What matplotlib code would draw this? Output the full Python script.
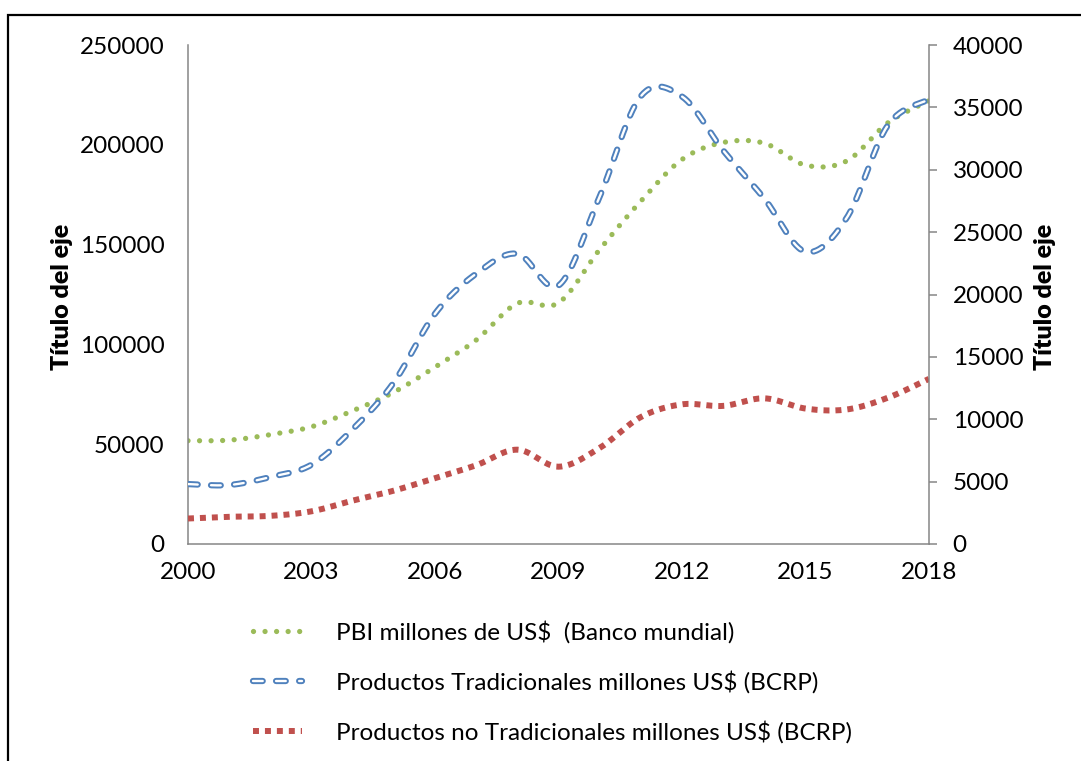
import numpy as np
import matplotlib
matplotlib.use('Agg')
import matplotlib.pyplot as plt
from matplotlib.lines import Line2D
from matplotlib.legend_handler import HandlerTuple
from matplotlib.patches import Rectangle

plt.rcParams['font.family'] = ['Lato', 'DejaVu Sans']
plt.rcParams['lines.scale_dashes'] = False

# datos (millones de US$)
years = np.arange(2000, 2019)
pbi = [51745, 52030, 54778, 58731, 66768, 76060, 88643, 102171, 120551, 120823,
       147529, 171762, 192649, 201175, 200790, 189803, 191898, 211007, 222045]
tradicionales = [4804, 4730, 5369, 6356, 9199, 12950, 18461, 21666, 23266, 20720,
                 27850, 35896, 35869, 31553, 27686, 23432, 26137, 33566, 35638]
no_tradicionales = [2044, 2183, 2256, 2620, 3479, 4277, 5279, 6313, 7562, 6196,
                    7699, 10176, 11197, 11069, 11677, 10857, 10782, 11724, 13240]

labels = ['PBI millones de US$  (Banco mundial)',
          'Productos Tradicionales millones US$ (BCRP)',
          'Productos no Tradicionales millones US$ (BCRP)']
xticks = [2000, 2003, 2006, 2009, 2012, 2015, 2018]


def suavizar(x, y, n=30):
    # curva suavizada tipo Excel (bezier cardinal)
    x = np.asarray(x, float)
    y = np.asarray(y, float)
    px = np.concatenate([[x[0]], x, [x[-1]]])
    py = np.concatenate([[y[0]], y, [y[-1]]])
    xs, ys = [], []
    t = np.linspace(0, 1, n, endpoint=False)
    for i in range(1, len(px) - 2):
        p0 = np.array([px[i], py[i]])
        p3 = np.array([px[i + 1], py[i + 1]])
        c1 = p0 + (p3 - np.array([px[i - 1], py[i - 1]])) / 6
        c2 = p3 - (np.array([px[i + 2], py[i + 2]]) - p0) / 6
        b = ((1 - t) ** 3)[:, None] * p0 + (3 * (1 - t) ** 2 * t)[:, None] * c1 \
            + (3 * (1 - t) * t ** 2)[:, None] * c2 + (t ** 3)[:, None] * p3
        xs.extend(b[:, 0])
        ys.extend(b[:, 1])
    xs.append(x[-1])
    ys.append(y[-1])
    return np.array(xs), np.array(ys)


W, H = 1081, 761
fig = plt.figure(figsize=(W / 100, H / 100), dpi=100)
fig.patches.append(Rectangle((8 / W, -0.05), 1.2, 1 - 15 / H + 0.05, transform=fig.transFigure,
                             fill=False, edgecolor='black', linewidth=1.6, zorder=0))

ax = fig.add_axes([188 / W, (H - 544) / H, (929 - 188) / W, (544 - 45) / H])
ax2 = ax.twinx()

verde = '#9BBB59'
azul = '#4F81BD'
rojo = '#C0504D'
gris = '#868686'
fs = 17.5

estilo_azul = (0, (7.0, 9.6))

gx, gy = suavizar(years, pbi)
ax.plot(gx, gy, color=verde, lw=3.8, linestyle=(0, (0.01, 8.3)),
        dash_capstyle='round', solid_capstyle='round')

bx, by = suavizar(years, tradicionales)
ax2.plot(bx, by, color=azul, lw=4.5, linestyle=estilo_azul, dash_capstyle='round')
ax2.plot(bx, by, color='white', lw=1.7, linestyle=estilo_azul, dash_capstyle='round')

rx, ry = suavizar(years, no_tradicionales)
ax2.plot(rx, ry, color=rojo, lw=4.3, linestyle=(0, (4.3, 4.3)), dash_capstyle='butt')

ax.set_xlim(2000, 2018)
ax.set_ylim(0, 250000)
ax2.set_ylim(0, 40000)
ax.set_xticks(xticks)
ax.set_yticks(np.arange(0, 250001, 50000))
ax2.set_yticks(np.arange(0, 40001, 5000))

for a in (ax, ax2):
    a.spines['top'].set_visible(False)
    for s in a.spines.values():
        s.set_color(gris)
        s.set_linewidth(1.1)
ax2.spines['left'].set_visible(False)
ax2.spines['bottom'].set_visible(False)
ax.spines['right'].set_visible(False)

ax.tick_params(axis='x', length=0, pad=13, labelsize=fs)
ax.tick_params(axis='y', length=0, pad=17, labelsize=fs)
ax2.tick_params(axis='y', length=6, width=1.1, color=gris, pad=11, labelsize=fs)

fig.text(62 / W, 1 - 297 / H, 'Título del eje', rotation=90, ha='center', va='center',
         fontsize=18, fontweight='heavy')
fig.text(1045 / W, 1 - 297 / H, 'Título del eje', rotation=90, ha='center', va='center',
         fontsize=18, fontweight='heavy')

h1 = Line2D([], [], color=verde, lw=3.8, linestyle=(0, (0.01, 8.3)), dash_capstyle='round')
h2a = Line2D([], [], color=azul, lw=4.5, linestyle=estilo_azul, dash_capstyle='round')
h2b = Line2D([], [], color='white', lw=1.7, linestyle=estilo_azul, dash_capstyle='round')
h3 = Line2D([], [], color=rojo, lw=4.3, linestyle=(0, (4.3, 4.3)), dash_capstyle='butt')
fig.legend([h1, (h2a, h2b), h3], labels, handler_map={tuple: HandlerTuple(ndivide=1, pad=0)},
           loc='upper left', bbox_to_anchor=(253 / W, 1 - 621 / H), frameon=False,
           fontsize=fs, handlelength=2.0, handletextpad=1.4, labelspacing=1.1,
           borderaxespad=0, borderpad=0)

fig.savefig('out.png', dpi=100)
